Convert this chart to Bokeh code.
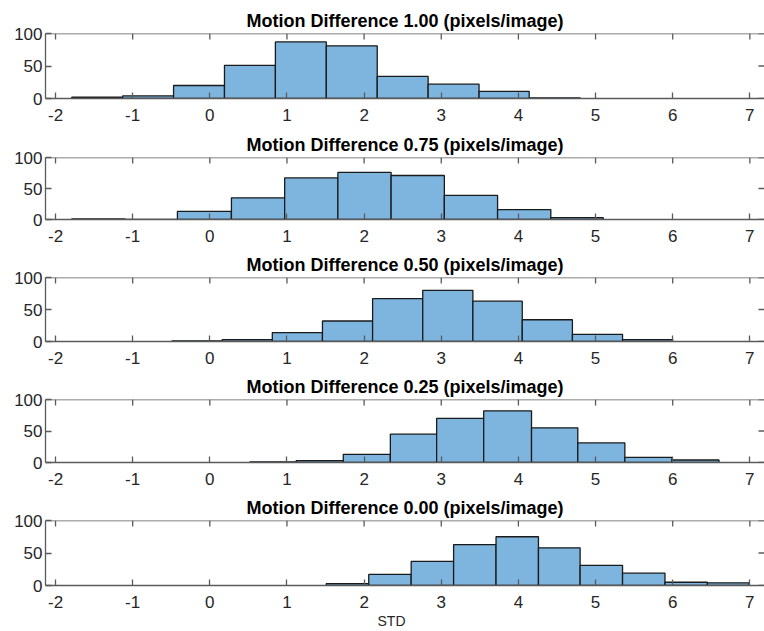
from bokeh.plotting import figure
from bokeh.layouts import column
from bokeh.models import FixedTicker, Range1d, Title, Span
from bokeh.embed import file_html
from bokeh.resources import INLINE

# ---- data ----
titles = [
    "Motion Difference 1.00 (pixels/image)",
    "Motion Difference 0.75 (pixels/image)",
    "Motion Difference 0.50 (pixels/image)",
    "Motion Difference 0.25 (pixels/image)",
    "Motion Difference 0.00 (pixels/image)",
]

edges_100 = [-1.79, -1.13, -0.47, 0.19, 0.85, 1.51, 2.17, 2.83, 3.49, 4.14, 4.80]
counts_100 = [2, 4, 20, 51, 87, 81, 34, 22, 11, 1]

edges_075 = [-1.79, -1.10, -0.42, 0.28, 0.97, 1.66, 2.35, 3.04, 3.73, 4.42, 5.10]
counts_075 = [1, 0, 13, 35, 67, 76, 71, 39, 16, 3]

edges_050 = [-0.49, 0.16, 0.81, 1.46, 2.11, 2.76, 3.41, 4.05, 4.70, 5.35, 6.00]
counts_050 = [1, 3, 14, 32, 67, 80, 63, 34, 11, 3]

edges_025 = [0.52, 1.12, 1.73, 2.34, 2.94, 3.55, 4.17, 4.77, 5.38, 5.99, 6.60]
counts_025 = [1, 3, 13, 45, 70, 82, 55, 31, 8, 4]

edges_000 = [1.51, 2.06, 2.61, 3.16, 3.71, 4.26, 4.80, 5.35, 5.90, 6.45, 6.99]
counts_000 = [3, 17, 37, 63, 75, 58, 31, 19, 5, 4]

x_ticks = [-2, -1, 0, 1, 2, 3, 4, 5, 6, 7]
x_tick_labels = ["-2", "-1", "0", "1", "2", "3", "4", "5", "6", "7"]
y_ticks = [0, 50, 100]
x_label = "STD"

series = [
    (edges_100, counts_100),
    (edges_075, counts_075),
    (edges_050, counts_050),
    (edges_025, counts_025),
    (edges_000, counts_000),
]

# ---- layout ----
heights = [128, 121, 122, 121, 139]
tops = [33, 29, 27, 28, 27]
bottoms = [30, 30, 30, 30, 46]
X0, X1 = -2.13, 7.19
Y0, Y1 = 0, 100
TICK_PX = 6
FRAME_W = 764 - 45

FONT = "Liberation Sans"
AX = "#5a5a5a"
TXT = "#262626"
FILL = "#7DB5DE"

figs = []
for i, (edges, counts) in enumerate(series):
    frame_h = heights[i] - tops[i] - bottoms[i]
    p = figure(width=764, height=heights[i], output_backend="svg",
               toolbar_location=None, x_range=Range1d(X0, X1),
               y_range=Range1d(Y0, Y1),
               min_border_left=45, min_border_right=0,
               min_border_top=tops[i], min_border_bottom=bottoms[i])
    p.quad(left=edges[:-1], right=edges[1:], top=counts, bottom=0,
           fill_color=FILL, line_color="#1a1a1a", line_width=1.3)

    # mirrored tick marks on the top and right edges (MATLAB box style)
    dy = TICK_PX * (Y1 - Y0) / frame_h
    dx = TICK_PX * (X1 - X0) / FRAME_W
    p.segment(x0=x_ticks, x1=x_ticks, y0=[Y1] * len(x_ticks),
              y1=[Y1 - dy] * len(x_ticks), line_color=AX, line_width=1.3)
    p.segment(x0=[X1] * len(y_ticks), x1=[X1 - dx] * len(y_ticks),
              y0=y_ticks, y1=y_ticks, line_color=AX, line_width=1.3)
    p.add_layout(Span(location=Y1, dimension="width", line_color=AX,
                      line_width=1.3))

    p.title.text = titles[i]
    p.title.align = "center"
    p.title.text_font = FONT
    p.title.text_font_size = "18px"
    p.title.text_font_style = "bold"
    p.title.text_color = "#000000"
    p.title.standoff = 6

    p.grid.visible = False
    p.background_fill_color = "white"
    p.border_fill_color = "white"
    p.outline_line_color = None

    p.xaxis[0].ticker = FixedTicker(ticks=x_ticks)
    p.xaxis[0].major_label_overrides = {t: s for t, s in zip(x_ticks, x_tick_labels)}
    p.yaxis[0].ticker = FixedTicker(ticks=y_ticks)
    for ax in (p.xaxis[0], p.yaxis[0]):
        ax.major_tick_in = TICK_PX
        ax.major_tick_out = 0
        ax.minor_tick_line_color = None
        ax.axis_line_color = AX
        ax.axis_line_width = 1.3
        ax.major_tick_line_color = AX
        ax.major_tick_line_width = 1.3
        ax.major_label_text_font = FONT
        ax.major_label_text_font_size = "17px"
        ax.major_label_text_color = TXT
    p.xaxis[0].major_label_standoff = 10
    p.yaxis[0].major_label_standoff = 3

    if i == len(series) - 1:
        lab = Title(text=x_label, align="left", offset=332,
                    text_font=FONT, text_font_size="14px",
                    text_font_style="normal", text_color=TXT, standoff=0)
        p.add_layout(lab, "below")
    figs.append(p)

layout = column(*figs, spacing=0)
open("out.html", "w").write(file_html(layout, INLINE))
